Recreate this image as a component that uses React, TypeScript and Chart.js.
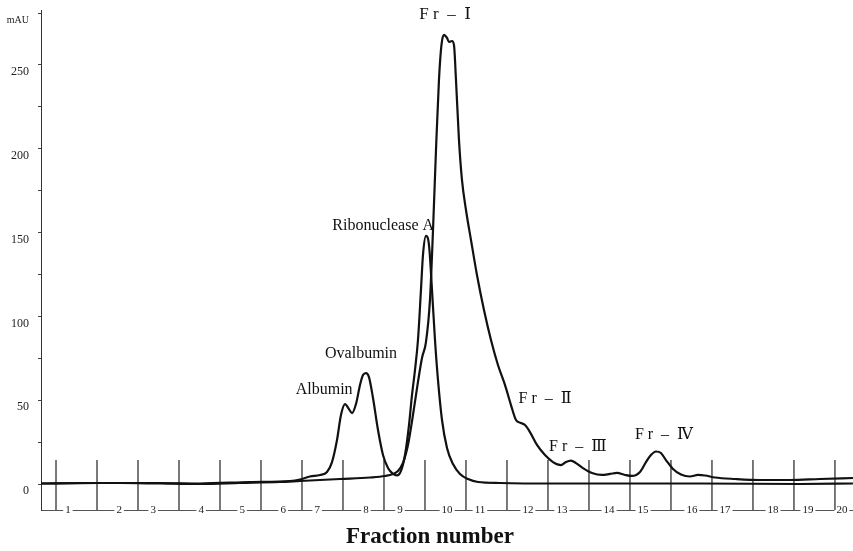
import React, { useEffect, useRef } from "react";
import { Chart, registerables } from "chart.js";

Chart.register(...registerables);

// Fraction collector marks (fraction boundaries, in fraction units)
const fractionBoundaries = [1, 2, 3, 4, 5, 6, 7, 8, 9, 10, 11, 12, 13, 14, 15, 16, 17, 18, 19, 20];
// Fraction numbers printed on the bottom line and where they sit
const fractionLabels = ["1", "2", "3", "4", "5", "6", "7", "8", "9", "10", "11", "12", "13", "14", "15", "16", "17", "18", "19", "20"];
const fractionLabelPositions = [1.29, 2.54, 3.37, 4.54, 5.54, 6.54, 7.37, 8.56, 9.39, 10.54, 11.34, 12.51, 13.34, 14.49, 15.32, 16.51, 17.32, 18.49, 19.34, 20.17];

// Y ticks (mAU)
const yTickValues = [0, 25, 50, 75, 100, 125, 150, 175, 200, 225, 250, 281];
const yTickLabels = ["0", "", "50", "", "100", "", "150", "", "200", "", "250", "mAU"];

// Sample trace (Fr-I ... Fr-IV)
const sampleElution = [
  0.634, 1.585, 2.561, 3.537, 4.512, 5.488, 6.463, 6.951, 7.927, 8.659, 9.024, 9.22, 9.341, 9.463,
  9.585, 9.707, 9.829, 9.927, 10.024, 10.122, 10.195, 10.268, 10.341, 10.402, 10.463, 10.537, 10.585,
  10.659, 10.707, 10.756, 10.829, 10.902, 11.0, 11.122, 11.268, 11.439, 11.61, 11.78, 11.951, 12.098,
  12.22, 12.341, 12.439, 12.561, 12.732, 12.927, 13.122, 13.317, 13.439, 13.561, 13.683, 13.854, 14.073,
  14.317, 14.512, 14.683, 14.878, 15.049, 15.244, 15.39, 15.512, 15.634, 15.756, 15.878, 16.049, 16.244,
  16.463, 16.659, 16.829, 17.073, 17.561, 18.171, 18.902, 19.634, 20.439,
];
const sampleAbsorbance = [
  0.3, 0.6, 0.6, 0.3, 0.0, 0.6, 1.2, 1.8, 3.0, 3.9, 4.8, 6.0, 7.8, 12.6,
  23.3, 41.2, 60.9, 75.2, 84.7, 110.0, 151.0, 199.0, 241.1, 262.0, 268.0, 266.2, 263.7,
  264.3, 262.0, 241.1, 205.3, 181.4, 163.5, 145.6, 124.7, 103.8, 85.9, 71.0, 59.1, 47.1,
  38.2, 36.4, 35.2, 31.0, 23.3, 17.3, 13.1, 11.3, 13.1, 14.0, 12.5, 9.5, 6.6,
  5.4, 6.0, 6.6, 5.4, 4.8, 7.2, 13.1, 17.3, 19.4, 18.5, 14.3, 9.0, 5.7,
  4.5, 5.4, 5.1, 3.9, 3.0, 2.4, 2.4, 3.0, 3.6,
];

// Standard proteins trace (Albumin, Ovalbumin, Ribonuclease A)
const standardElution = [
  0.634, 2.073, 3.537, 4.512, 5.732, 6.707, 6.951, 7.195, 7.439, 7.61, 7.732, 7.854, 7.951, 8.049,
  8.146, 8.22, 8.317, 8.415, 8.488, 8.561, 8.634, 8.732, 8.854, 8.976, 9.098, 9.22, 9.317, 9.415,
  9.512, 9.61, 9.683, 9.756, 9.829, 9.902, 9.951, 10.024, 10.098, 10.171, 10.244, 10.317, 10.415,
  10.537, 10.683, 10.854, 11.049, 11.293, 11.829, 13.049, 14.268, 16.707, 19.146, 20.439,
];
const standardAbsorbance = [
  0.3, 0.6, 0.6, 0.3, 1.2, 1.8, 2.7, 4.5, 5.4, 7.2, 13.1, 26.3, 41.2, 47.7,
  44.7, 42.3, 47.7, 59.1, 65.0, 66.2, 63.8, 51.3, 32.2, 17.3, 9.5, 6.0, 5.1, 7.8,
  17.3, 35.2, 53.1, 68.0, 85.9, 115.8, 136.6, 148.0, 142.6, 115.8, 85.9, 62.1, 38.2,
  21.5, 11.9, 6.0, 3.0, 1.2, 0.6, 0.3, 0.3, 0.3, 0.0, 0.3,
];

const FONT = '"Liberation Serif", "DejaVu Serif", serif';
const MARK_BOTTOM = -15.5;
const MARK_TOP = 14.3;

const peakText = [
  { text: "F r  \u2013  \u2160", x: 10.49, y: 279.8, size: 17 },
  { text: "Ribonuclease A", x: 8.98, y: 153.9, size: 16 },
  { text: "Ovalbumin", x: 8.44, y: 77.6, size: 16 },
  { text: "Albumin", x: 7.54, y: 56.1, size: 16 },
  { text: "F r  \u2013  \u2161", x: 12.93, y: 50.7, size: 16 },
  { text: "F r  \u2013  \u2162", x: 13.73, y: 22.1, size: 16 },
  { text: "F r  \u2013  \u2163", x: 15.83, y: 29.2, size: 16 },
];

const textPlugin = {
  id: "peakText",
  afterDatasetsDraw(chart: any) {
    const { ctx, scales } = chart;
    const xs = scales.x;
    const ys = scales.y;
    ctx.save();
    ctx.fillStyle = "#111";
    ctx.textAlign = "center";
    ctx.textBaseline = "middle";
    peakText.forEach((a) => {
      ctx.font = `${a.size}px ${FONT}`;
      ctx.fillText(a.text, xs.getPixelForValue(a.x), ys.getPixelForValue(a.y));
    });
    ctx.font = `bold 23px ${FONT}`;
    ctx.fillText("Fraction number", xs.getPixelForValue(10.12), chart.chartArea.bottom + 27);
    ctx.restore();
  },
};

export default function App() {
  const ref = useRef<HTMLCanvasElement | null>(null);

  useEffect(() => {
    if (!ref.current) return;
    const zip = (xs: number[], ys: number[]) => xs.map((x, i) => ({ x, y: ys[i] }));
    const markers = fractionBoundaries.flatMap((b) => [
      { x: b, y: MARK_BOTTOM },
      { x: b, y: MARK_TOP },
      { x: b, y: null as any },
    ]);
    const chart = new Chart(ref.current, {
      type: "line",
      data: {
        datasets: [
          {
            label: "Sample",
            data: zip(sampleElution, sampleAbsorbance),
            borderColor: "#111",
            borderWidth: 2.2,
            pointRadius: 0,
            cubicInterpolationMode: "monotone",
          },
          {
            label: "Standards",
            data: zip(standardElution, standardAbsorbance),
            borderColor: "#111",
            borderWidth: 2.2,
            pointRadius: 0,
            cubicInterpolationMode: "monotone",
          },
          {
            label: "Fraction marks",
            data: markers,
            borderColor: "#222",
            borderWidth: 1.2,
            pointRadius: 0,
            spanGaps: false,
          },
        ],
      },
      options: {
        animation: false,
        responsive: false,
        layout: { padding: { top: 10, left: 0, right: 0, bottom: 0 } },
        plugins: { legend: { display: false }, tooltip: { enabled: false } },
        scales: {
          x: {
            type: "linear",
            min: 0.634,
            max: 20.44,
            bounds: "data",
            grid: { display: false, drawTicks: false },
            border: { display: true, color: "#555", width: 1 },
            afterBuildTicks: (s: any) => {
              s.ticks = fractionLabelPositions.map((v) => ({ value: v }));
            },
            afterFit: (s: any) => {
              s.height = 41;
              s.paddingLeft = 0;
              s.paddingRight = 0;
            },
            ticks: {
              autoSkip: false,
              maxRotation: 0,
              minRotation: 0,
              mirror: true,
              padding: -7,
              color: "#222",
              font: { family: FONT, size: 11 },
              showLabelBackdrop: true,
              backdropColor: "#ffffff",
              backdropPadding: { x: 2, y: 0 },
              callback: (_v: any, i: number) => fractionLabels[i],
            },
          },
          y: {
            type: "linear",
            min: -15.5,
            max: 282.8,
            grid: { display: true, drawOnChartArea: false, drawTicks: true, tickLength: 3, color: "#444" },
            border: { display: true, color: "#333", width: 1 },
            afterBuildTicks: (s: any) => {
              s.ticks = yTickValues.map((v) => ({ value: v }));
            },
            afterFit: (s: any) => {
              s.width = 41;
              s.paddingTop = 0;
              s.paddingBottom = 0;
            },
            ticks: {
              autoSkip: false,
              padding: 9,
              labelOffset: 7,
              color: "#222",
              font: (c: any) => ({ family: FONT, size: c.tick && c.tick.value === 281 ? 10 : 12 }),
              callback: (_v: any, i: number) => yTickLabels[i],
            },
          },
        },
      },
      plugins: [textPlugin],
    } as any);
    return () => chart.destroy();
  }, []);

  return (
    <canvas
      ref={ref}
      width={853}
      height={551}
      style={{ position: "fixed", left: 0, top: 0, display: "block", background: "#fff" }}
    />
  );
}
